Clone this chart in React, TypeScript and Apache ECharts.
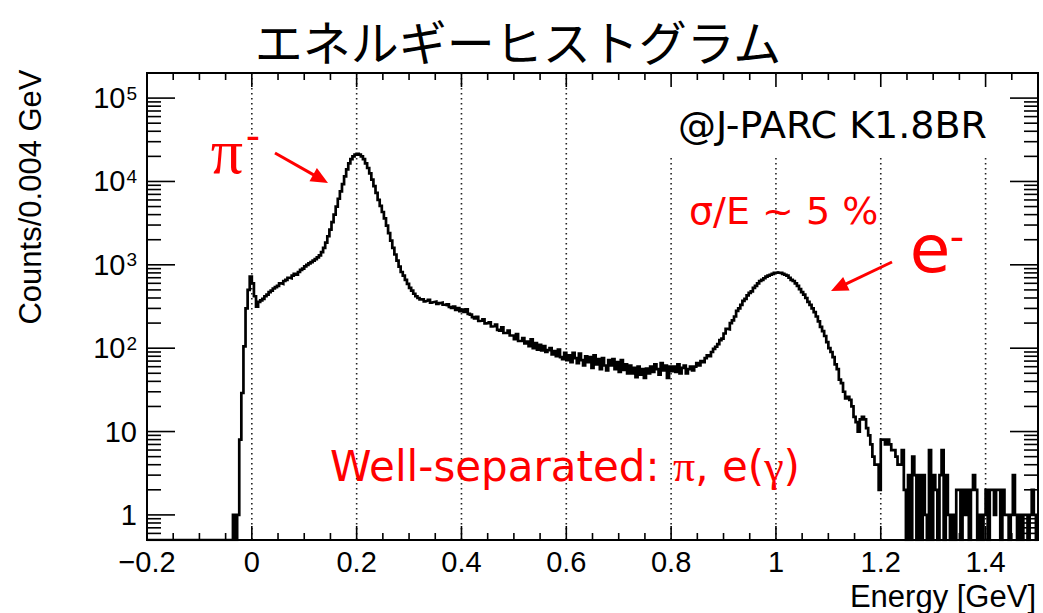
import React, { useEffect, useRef } from "react";
import * as echarts from "echarts";

// ---- axis ranges / binning ----
const X_MIN = -0.2;
const X_MAX = 1.5;
const BIN_WIDTH = 0.004;
const Y_MIN = 0.5;
const Y_MAX = 2e5;

// ---- histogram counts per 0.004 GeV bin ----
// bins 0..53  (-0.200 .. 0.016 GeV)
const countsOnset = [
  0, 0, 0, 0, 0, 0, 0, 0, 0, 0,
  0, 0, 0, 0, 0, 0, 0, 0, 0, 0,
  0, 0, 0, 0, 0, 0, 0, 0, 0, 0,
  0, 0, 0, 0, 0, 0, 0, 0, 0, 0,
  0, 1, 0, 1, 8, 29, 105, 300, 500, 720,
  600, 420, 315, 360,
];
// bins 54..130 (0.016 .. 0.324 GeV) : pion peak
const countsPion = [
  375, 390, 420, 440, 470, 490, 520,
  540, 560, 600, 590, 640, 660, 700, 690,
  740, 780, 760, 820, 870, 900, 960, 1000,
  1040, 1080, 1120, 1170, 1230, 1300,
  1420, 1600, 1850, 2200, 2650, 3250,
  4000, 5000, 6200, 7600, 9300, 11500, 14000,
  16500, 18500, 20000, 21000, 21500,
  21000, 20000, 18500, 16500, 14500, 12500,
  10500, 8800, 7300, 6000, 5100,
  4300, 3600, 2950, 2400, 1950, 1600, 1330, 1120, 950,
  820, 740, 660, 590, 530, 490, 450, 420, 400, 385,
];
// bins 131..260 (0.324 .. 0.844 GeV) : plateau
const countsPlateau = [
  385, 365, 372, 380, 352, 358, 362, 340, 348, 352,
  332, 328, 336, 312, 305, 315, 288, 302, 278, 290,
  272, 292, 258, 252, 236, 228, 238, 212, 214, 222,
  198, 200, 204, 182, 184, 192, 166, 162, 178, 152,
  152, 162, 142, 142, 128, 148, 122, 122, 132, 114,
  120, 106, 128, 100, 115, 96, 110, 94, 106, 90,
  95, 100, 84, 92, 80, 96, 78, 74, 88, 72,
  82, 68, 88, 76, 66, 86, 72, 62, 80, 68,
  78, 58, 82, 64, 74, 56, 76, 62, 54, 72,
  62, 74, 56, 68, 52, 72, 55, 64, 50, 62,
  50, 58, 45, 60, 48, 56, 44, 57, 50, 60,
  52, 64, 56, 48, 66, 54, 62, 44, 60, 53,
  60, 52, 64, 50, 58, 62, 50, 56, 60, 54,
];
// bins 261..349 (0.844 .. 1.200 GeV) : electron peak
const countsElectron = [
  60, 66, 62, 70, 68, 76, 82, 80, 90, 98,
  104, 112, 125, 130, 150, 170, 168, 200, 215, 240,
  280, 300, 330, 370, 390, 430, 460, 480, 530, 560,
  600, 640, 660, 690, 720, 740, 760, 780, 800, 810,
  800, 800, 780, 760, 740, 700, 660, 640, 600, 560,
  510, 470, 440, 400, 360, 330, 300, 270, 240, 210,
  180, 160, 140, 118, 100, 90, 78, 64, 56, 42,
  38, 30, 25, 26, 24, 20, 15, 13, 10, 14,
  15, 14, 11, 9, 7, 5, 4, 4, 2,
];
// bins 350..424 (1.200 .. 1.500 GeV) : tail
const countsTail = [
  8, 8, 7, 8, 7, 6, 6, 5, 4, 4, 6,
  2, 0, 3, 0, 5, 3, 0, 3, 0, 3,
  1, 0, 6, 0, 3, 2, 0, 3, 6, 0,
  3, 1, 0, 1, 0, 2, 2, 0, 2, 1,
  2, 0, 2, 3, 2, 0, 1, 0, 1, 2,
  0, 2, 2, 1, 2, 2, 0, 2, 1, 1,
  0, 1, 3, 1, 0, 1, 0, 1, 1, 0,
  1, 2, 1, 0,
];

const counts = [
  ...countsOnset,
  ...countsPion,
  ...countsPlateau,
  ...countsElectron,
  ...countsTail,
];

// ---- tick values ----
const xMajorTicks = [-0.2, 0, 0.2, 0.4, 0.6, 0.8, 1.0, 1.2, 1.4];
const xMinorStep = 0.05;
const yMajorTicks = [1, 10, 100, 1000, 10000, 100000];
const yMinorMultipliers = [2, 3, 4, 5, 6, 7, 8, 9];
const gridLineValues = [0, 0.2, 0.4, 0.6, 0.8, 1.0, 1.2, 1.4];

const ROOT_FONT = '"Liberation Sans", Arial, sans-serif';
const ANNOT_FONT = '"DejaVu Sans", Verdana, sans-serif';
const GREEK_FONT = '"Liberation Serif", "DejaVu Serif", serif';

function arrow(tail: [number, number], tip: [number, number], color: string) {
  const dx = tip[0] - tail[0];
  const dy = tip[1] - tail[1];
  const L = Math.hypot(dx, dy);
  const ux = dx / L;
  const uy = dy / L;
  const hl = 17;
  const hw = 7.5;
  const bx = tip[0] - ux * hl;
  const by = tip[1] - uy * hl;
  return [
    {
      type: "line",
      z: 10,
      silent: true,
      shape: { x1: tail[0], y1: tail[1], x2: bx + ux * 2, y2: by + uy * 2 },
      style: { stroke: color, lineWidth: 3 },
    },
    {
      type: "polygon",
      z: 10,
      silent: true,
      shape: {
        points: [
          [tip[0], tip[1]],
          [bx - uy * hw, by + ux * hw],
          [bx + uy * hw, by - ux * hw],
        ],
      },
      style: { fill: color },
    },
  ];
}

function txt(
  text: string,
  x: number,
  y: number,
  fontSize: number,
  fontFamily: string,
  fill: string,
  align: string = "left",
  extra: any = {}
) {
  return {
    type: "text",
    z: 10,
    silent: true,
    x,
    y,
    ...extra,
    style: {
      text,
      fontSize,
      fontFamily,
      fill,
      align,
      verticalAlign: "middle",
      textAlign: align,
      textVerticalAlign: "middle",
    },
  };
}

export default function App() {
  const ref = useRef<HTMLDivElement>(null);

  useEffect(() => {
    if (!ref.current) return;
    const chart = echarts.init(ref.current, undefined, { renderer: "svg" });

    // histogram points at bin left edges + final right edge
    const histPoints: [number, number][] = counts.map((c, i) => [
      Math.round((X_MIN + i * BIN_WIDTH) * 1e6) / 1e6,
      c > 0 ? c : Y_MIN,
    ]);
    const last = counts[counts.length - 1];
    histPoints.push([X_MAX, last > 0 ? last : Y_MIN]);

    // tick data: [x, y, orientation(0 = x tick, 1 = y tick), major(1/0)]
    const tickData: number[][] = [];
    xMajorTicks.forEach((v) => tickData.push([v, 1, 0, 1]));
    for (let k = 1; ; k++) {
      const v = Math.round((X_MIN + k * xMinorStep) * 1000) / 1000;
      if (v >= X_MAX - 1e-9) break;
      const isMajor = xMajorTicks.some((m) => Math.abs(m - v) < 1e-9);
      if (!isMajor) tickData.push([v, 1, 0, 0]);
    }
    yMajorTicks.forEach((v) => tickData.push([X_MIN, v, 1, 1]));
    for (let e = -1; e <= 5; e++) {
      yMinorMultipliers.forEach((m) => {
        const v = m * Math.pow(10, e);
        if (v > Y_MIN * 1.0001 && v < Y_MAX * 0.9999) tickData.push([X_MIN, v, 1, 0]);
      });
    }

    const option: any = {
      animation: false,
      grid: {
        left: 147,
        top: 73,
        width: 891,
        height: 467,
        show: true,
        borderColor: "#000",
        borderWidth: 2,
        backgroundColor: "transparent",
        containLabel: false,
      },
      xAxis: {
        type: "value",
        min: X_MIN,
        max: X_MAX,
        interval: 0.2,
        axisLine: { show: false },
        axisTick: { show: false },
        splitLine: { show: false },
        axisLabel: {
          fontFamily: ROOT_FONT,
          fontSize: 29,
          color: "#000",
          margin: 7,
          showMaxLabel: false,
          formatter: (v: number) => {
            if (Math.abs(v - X_MAX) < 1e-9) return "";
            const r = Math.round(v * 10) / 10;
            return r < 0 ? "\u2212" + String(-r) : String(r);
          },
        },
      },
      yAxis: {
        type: "log",
        logBase: 10,
        min: Y_MIN,
        max: Y_MAX,
        axisLine: { show: false },
        axisTick: { show: false },
        splitLine: { show: false },
        axisLabel: {
          margin: 10,
          color: "#000",
          fontFamily: ROOT_FONT,
          fontSize: 29,
          formatter: (v: number) => {
            const e = Math.round(Math.log10(v));
            if (Math.abs(v - Math.pow(10, e)) > 1e-6 * v) return "";
            if (e === 0) return "{b|1}";
            if (e === 1) return "{b|10}";
            return "{b|10}{s|" + String(e) + "}";
          },
          rich: {
            b: { fontFamily: ROOT_FONT, fontSize: 29, color: "#000" },
            s: {
              fontFamily: ROOT_FONT,
              fontSize: 19,
              color: "#000",
              verticalAlign: "top",
              padding: [0, 0, 0, 1],
            },
          },
        },
      },
      series: [
        {
          // dotted vertical grid lines
          type: "custom",
          z: 1,
          silent: true,
          clip: false,
          data: gridLineValues.map((v) => [v, 1]),
          encode: { x: 0, y: 1 },
          renderItem: (params: any, api: any) => {
            const cs = params.coordSys;
            const px = api.coord([api.value(0), 1])[0];
            return {
              type: "line",
              shape: { x1: px, y1: cs.y, x2: px, y2: cs.y + cs.height },
              style: { stroke: "#222", lineWidth: 1.6, lineDash: [1.6, 3.4] },
            };
          },
        },
        {
          // ROOT-style inward ticks on all four sides
          type: "custom",
          z: 3,
          silent: true,
          clip: false,
          data: tickData,
          encode: { x: 0, y: 1 },
          renderItem: (params: any, api: any) => {
            const cs = params.coordSys;
            const orient = api.value(2);
            const major = api.value(3) === 1;
            const st = { stroke: "#000", lineWidth: 1.6 };
            if (orient === 0) {
              const px = api.coord([api.value(0), 1])[0];
              const len = major ? 14 : 7;
              return {
                type: "group",
                children: [
                  { type: "line", shape: { x1: px, y1: cs.y + cs.height, x2: px, y2: cs.y + cs.height - len }, style: st },
                  { type: "line", shape: { x1: px, y1: cs.y, x2: px, y2: cs.y + len }, style: st },
                ],
              };
            }
            const py = api.coord([X_MIN, api.value(1)])[1];
            const len = major ? 28 : 14;
            return {
              type: "group",
              children: [
                { type: "line", shape: { x1: cs.x, y1: py, x2: cs.x + len, y2: py }, style: st },
                { type: "line", shape: { x1: cs.x + cs.width, y1: py, x2: cs.x + cs.width - len, y2: py }, style: st },
              ],
            };
          },
        },
        {
          name: "Energy",
          type: "line",
          step: "end",
          z: 4,
          symbol: "none",
          showSymbol: false,
          silent: true,
          data: histPoints,
          lineStyle: { color: "#000", width: 2.7, join: "miter" },
        },
      ],
      graphic: {
        elements: [
          {
            type: "rect",
            z: 2,
            silent: true,
            shape: { x: 600, y: 75, width: 436, height: 80 },
            style: { fill: "#fff" },
          },
          txt("エネルギーヒストグラム", 518, 40, 48, '"Noto Sans CJK JP"', "#000", "center"),
          txt("@J-PARC K1.8BR", 678, 125, 38, ANNOT_FONT, "#000", "left"),
          txt("σ/E ~ 5 %", 689, 211, 38, ANNOT_FONT, "#ff0000", "left"),
          txt("π", 227, 151, 64, GREEK_FONT, "#ff0000", "center"),
          txt("-", 253, 136, 40, ANNOT_FONT, "#ff0000", "center"),
          txt("e", 930, 249, 66, ANNOT_FONT, "#ff0000", "center"),
          txt("-", 957, 237, 40, ANNOT_FONT, "#ff0000", "center"),
          {
            type: "text",
            z: 10,
            silent: true,
            x: 330,
            y: 466,
            style: {
              text: "{n|Well-separated: }{g|π}{n|, e(}{g|γ}{n|)}",
              align: "left",
              verticalAlign: "middle",
              textAlign: "left",
              textVerticalAlign: "middle",
              fill: "#ff0000",
              fontSize: 42,
              fontFamily: ANNOT_FONT,
              rich: {
                n: { fontSize: 42, fontFamily: ANNOT_FONT, fill: "#ff0000", color: "#ff0000" },
                g: { fontSize: 44, fontFamily: GREEK_FONT, fill: "#ff0000", color: "#ff0000" },
              },
            },
          },
          ...arrow([275, 153], [328, 183], "#ff0000"),
          ...arrow([892, 262], [831, 291], "#ff0000"),
          txt("Energy [GeV]", 1036, 596, 31, ROOT_FONT, "#000", "right"),
          txt("Counts/0.004 GeV", 30, 197, 31, ROOT_FONT, "#000", "center", { rotation: Math.PI / 2 }),
        ],
      },
    };

    chart.setOption(option);
    return () => {
      chart.dispose();
    };
  }, []);

  return (
    <div
      ref={ref}
      style={{ position: "fixed", left: 0, top: 0, width: 1043, height: 613, background: "#fff" }}
    />
  );
}
